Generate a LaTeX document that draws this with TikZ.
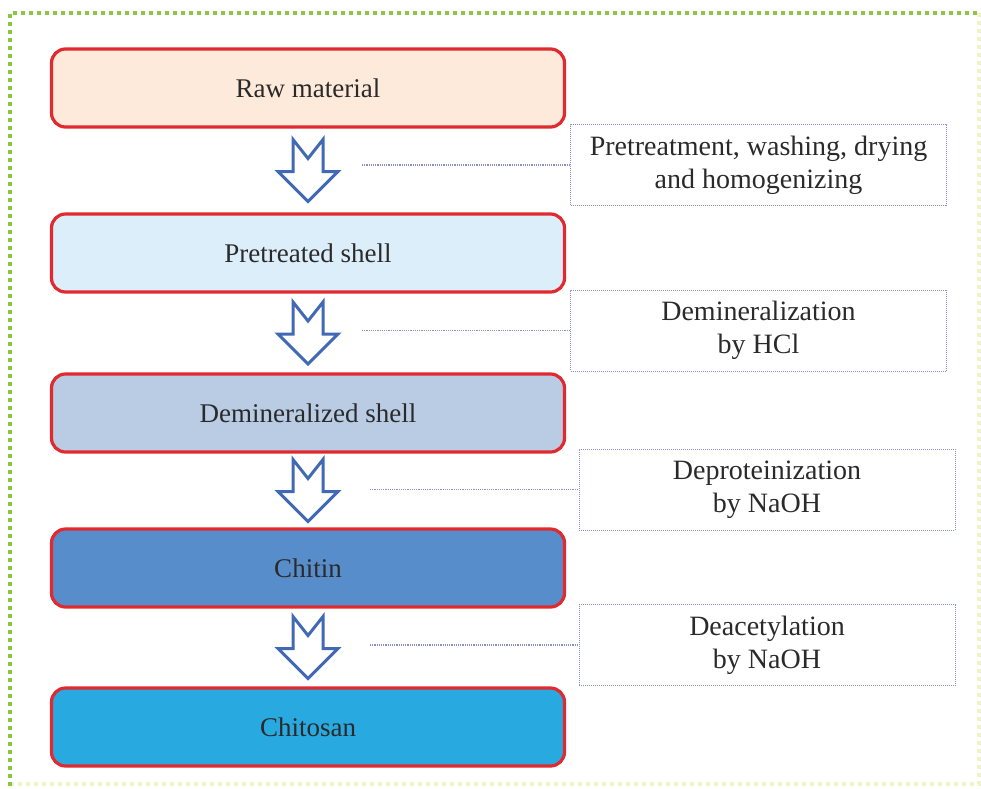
\documentclass[tikz,border=0pt]{standalone}
\usepackage{fontspec}
\setmainfont{Liberation Serif}
\usetikzlibrary{calc}
\definecolor{boxred}{HTML}{E02A30}
\definecolor{fillA}{HTML}{FDEADB}
\definecolor{fillB}{HTML}{DDEEFB}
\definecolor{fillC}{HTML}{B9CCE4}
\definecolor{fillD}{HTML}{588DCB}
\definecolor{fillE}{HTML}{28AAE1}
\definecolor{arrowblue}{HTML}{4169B5}
\definecolor{dotblue}{HTML}{8A8FC8}
\definecolor{framegreen}{HTML}{8CC541}
\definecolor{framepale}{HTML}{EEF4C8}
\definecolor{txt}{HTML}{2A2A2A}
\tikzset{
  x=1pt,y=-1pt,
  stagebox/.style={draw=boxred, line width=3.2pt, rounded corners=14pt,
    minimum width=513pt, minimum height=78pt, inner sep=0pt,
    font=\fontsize{27}{31}\selectfont, text=txt},
  notebox/.style={draw=dotblue, line width=1pt, densely dotted,
    minimum width=376pt, minimum height=81pt, inner sep=0pt, align=center,
    font=\fontsize{28}{33}\selectfont, text=txt},
  link/.style={draw=dotblue, line width=1.2pt, densely dotted},
  blockarrow/.pic={
    \draw[arrowblue, line width=3pt, line join=miter, fill=white, y=1pt]
      (-15,31) -- (0,12) -- (15,31) -- (15,-1) -- (30,-1) -- (0,-31)
      -- (-30,-1) -- (-15,-1) -- cycle;
  }
}
\begin{document}
\begin{tikzpicture}
\useasboundingbox (0,0) rectangle (981,788);
% frame
\draw[framepale, line width=3.5pt, dash pattern=on 4pt off 4pt] (979,13) -- (979,784) -- (10,784);
\draw[framegreen, line width=4pt, dash pattern=on 4pt off 4pt] (10,786) -- (10,13) -- (981,13);

% stages
\node[stagebox, fill=fillA] (b1) at (308,88) {Raw material};
\node[stagebox, fill=fillB] (b2) at (308,253) {Pretreated shell};
\node[stagebox, fill=fillC] (b3) at (308,413) {Demineralized shell};
\node[stagebox, fill=fillD] (b4) at (308,568) {Chitin};
\node[stagebox, fill=fillE] (b5) at (308,727) {Chitosan};

% arrows
\pic at ($(b1.south)!0.5!(b2.north)$) {blockarrow};
\pic at ($(b2.south)!0.5!(b3.north)$) {blockarrow};
\pic at ($(b3.south)!0.5!(b4.north)$) {blockarrow};
\pic at ($(b4.south)!0.5!(b5.north)$) {blockarrow};

% notes
\node[notebox] (n1) at (758.5,165) {Pretreatment, washing, drying\\and homogenizing};
\node[notebox] (n2) at (758.5,330.5) {Demineralization\\by HCl};
\node[notebox] (n3) at (767,489.5) {Deproteinization\\by NaOH};
\node[notebox] (n4) at (767,645) {Deacetylation\\by NaOH};

% connectors
\coordinate (c1) at (362,165);
\coordinate (c2) at (362,330.5);
\coordinate (c3) at (370,489.5);
\coordinate (c4) at (370,645);
\draw[link] (c1) -- (n1.west);
\draw[link] (c2) -- (n2.west);
\draw[link] (c3) -- (n3.west);
\draw[link] (c4) -- (n4.west);
\end{tikzpicture}
\end{document}
